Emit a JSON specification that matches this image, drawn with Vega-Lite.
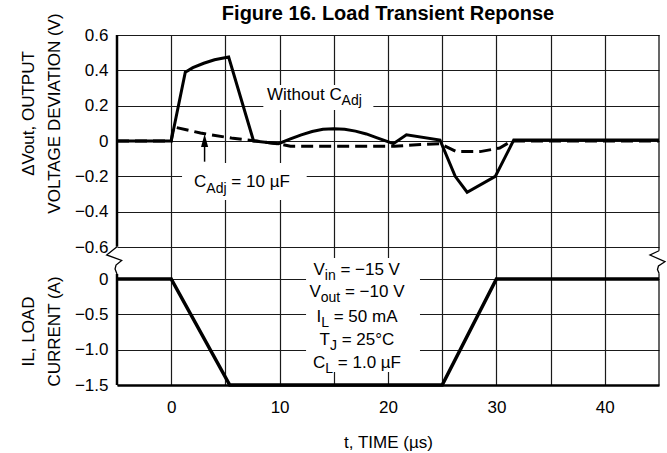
{
  "$schema": "https://vega.github.io/schema/vega-lite/v6.json",
  "autosize": {"type": "none"},
  "padding": {"left": 117, "top": 35, "right": 8, "bottom": 68},
  "width": 542,
  "height": 350,
  "background": "white",
  "title": {"text": "Figure 16. Load Transient Reponse", "font": "Liberation Sans", "fontSize": 20, "fontWeight": "bold", "color": "black", "anchor": "middle", "frame": "group", "baseline": "alphabetic", "offset": 0, "dy": 27},
  "config": {
    "view": {"stroke": null},
    "font": "Liberation Sans",
    "text": {"font": "Liberation Sans", "color": "black"},
    "axis": {"labelFont": "Liberation Sans", "labelFontSize": 17, "labelColor": "black", "titleFont": "Liberation Sans", "titleFontSize": 17, "titleFontWeight": "normal", "titleColor": "black", "gridColor": "#1a1a1a", "gridWidth": 1.2, "gridOpacity": 1, "ticks": false, "tickSize": 0, "domain": false}
  },
  "datasets": {
    "without": [{"t":-5,"v":0},{"t":0,"v":0},{"t":1.3,"v":0.39},{"t":2.0,"v":0.415},{"t":3.0,"v":0.44},{"t":4.0,"v":0.46},{"t":5.3,"v":0.475},{"t":7.6,"v":0},{"t":9.9,"v":-0.015},{"t":11,"v":0.012},{"t":12,"v":0.035},{"t":13,"v":0.054},{"t":14,"v":0.066},{"t":15,"v":0.07},{"t":16,"v":0.067},{"t":17,"v":0.056},{"t":18,"v":0.04},{"t":19,"v":0.018},{"t":20.5,"v":-0.015},{"t":21.7,"v":0.035},{"t":24.8,"v":0.005},{"t":26.2,"v":-0.2},{"t":27.3,"v":-0.29},{"t":29.9,"v":-0.2},{"t":31.6,"v":0.005},{"t":45,"v":0.005}],
    "withc": [{"t":-5,"v":0},{"t":0,"v":0},{"t":0.2,"v":0.08},{"t":2.7,"v":0.045},{"t":5.7,"v":0.015},{"t":7.9,"v":0},{"t":10,"v":-0.017},{"t":11,"v":-0.03},{"t":20.6,"v":-0.03},{"t":23,"v":-0.02},{"t":24.8,"v":-0.015},{"t":26.3,"v":-0.06},{"t":28.5,"v":-0.06},{"t":30.3,"v":-0.04},{"t":31.4,"v":0},{"t":45,"v":0}],
    "load": [{"t":-5,"v":0},{"t":0,"v":0},{"t":5.4,"v":-1.5},{"t":25,"v":-1.5},{"t":30,"v":0},{"t":45,"v":0}],
    "topboxes": [{"t":8.5,"t2":18.65,"v":0.317,"v2":0.175},{"t":1.0,"t2":12.5,"v":-0.125,"v2":-0.334}],
    "toptext": [
      {"t":8.84,"v":0.232,"text":"Without C","kind":"main"},
      {"t":15.72,"v":0.204,"text":"Adj","kind":"sub"},
      {"t":2.10,"v":-0.259,"text":"C","kind":"main"},
      {"t":3.24,"v":-0.296,"text":"Adj","kind":"sub"},
      {"t":5.55,"v":-0.259,"text":"= 10 µF","kind":"main"}
    ],
    "arrow": [{"t":3.08,"v":-0.117,"v2":0.0}],
    "arrowhead": [{"t":3.08,"v":0.003}],
    "botboxes": [{"t":12.44,"t2":22.95,"v":0.297,"v2":-1.316}],
    "bottext": [
      {"t":13.13,"v":0.057,"text":"V","kind":"main"},
      {"t":14.17,"v":-0.014,"text":"in","kind":"sub"},
      {"t":15.61,"v":0.057,"text":"= −15 V","kind":"main"},
      {"t":12.76,"v":-0.25,"text":"V","kind":"main"},
      {"t":13.80,"v":-0.321,"text":"out","kind":"sub"},
      {"t":16.03,"v":-0.25,"text":"= −10 V","kind":"main"},
      {"t":13.40,"v":-0.604,"text":"I","kind":"main"},
      {"t":13.84,"v":-0.675,"text":"L","kind":"sub"},
      {"t":14.99,"v":-0.604,"text":"= 50 mA","kind":"main"},
      {"t":13.69,"v":-0.934,"text":"T","kind":"main"},
      {"t":14.65,"v":-1.005,"text":"J","kind":"sub"},
      {"t":15.73,"v":-0.934,"text":"= 25°C","kind":"main"},
      {"t":13.08,"v":-1.259,"text":"C","kind":"main"},
      {"t":14.22,"v":-1.33,"text":"L","kind":"sub"},
      {"t":15.37,"v":-1.259,"text":"= 1.0 µF","kind":"main"}
    ],
    "borders": [
      {"t":-5,"v":3.453,"v2":0.457,"side":"left"},
      {"t":-5,"v":0.071,"v2":-1.5,"side":"left"},
      {"t":45,"v":3.453,"v2":0.40,"side":"right"},
      {"t":45,"v":0.081,"v2":-1.5,"side":"right"}
    ],
    "squiggles": [
      {"t":-5,"v":0.457,"i":0,"side":"left"},
      {"t":-5.95,"v":0.34,"i":1,"side":"left"},
      {"t":-4.57,"v":0.262,"i":2,"side":"left"},
      {"t":-5.09,"v":0.198,"i":3,"side":"left"},
      {"t":-5.18,"v":0.141,"i":4,"side":"left"},
      {"t":-5,"v":0.071,"i":5,"side":"left"},
      {"t":45,"v":0.40,"i":0,"side":"right"},
      {"t":44.17,"v":0.34,"i":1,"side":"right"},
      {"t":45.55,"v":0.245,"i":2,"side":"right"},
      {"t":44.95,"v":0.184,"i":3,"side":"right"},
      {"t":44.86,"v":0.134,"i":4,"side":"right"},
      {"t":45,"v":0.081,"i":5,"side":"right"}
    ]
  },
  "encoding": {
    "x": {"field": "t", "type": "quantitative",
      "scale": {"domain": [-5, 45], "nice": false, "zero": false},
      "axis": {"values": [0,5,10,15,20,25,30,35,40], "labelExpr": "datum.value % 10 === 0 ? datum.label : ''", "grid": true, "domain": true, "domainColor": "black", "domainWidth": 2.5, "labelPadding": 14, "title": "t, TIME (µs)", "titleY": 62, "titleBaseline": "alphabetic"}}
  },
  "layer": [
    {
      "encoding": {
        "y": {"field": "v", "type": "quantitative",
          "scale": {"domain": [-1.381, 0.6], "nice": false, "zero": false},
          "axis": {"orient": "left", "values": [-0.6,-0.4,-0.2,0,0.2,0.4,0.6], "format": ".1~f", "grid": true, "labelPadding": 9,
            "title": ["ΔVout, OUTPUT", "VOLTAGE DEVIATION (V)"], "titleAngle": -90, "titleAlign": "center", "titleBaseline": "alphabetic", "titleX": -84, "titleY": 78, "titleLineHeight": 26}}
      },
      "layer": [
        {"data": {"name": "topboxes"}, "mark": {"type": "rect", "fill": "white", "stroke": null}, "encoding": {"x2": {"field": "t2"}, "y2": {"field": "v2"}}},
        {"data": {"name": "toptext"}, "transform": [{"filter": "datum.kind === 'main'"}], "mark": {"type": "text", "align": "left", "baseline": "alphabetic", "fontSize": 17, "color": "black"}, "encoding": {"text": {"field": "text"}}},
        {"data": {"name": "toptext"}, "transform": [{"filter": "datum.kind === 'sub'"}], "mark": {"type": "text", "align": "left", "baseline": "alphabetic", "fontSize": 14, "color": "black"}, "encoding": {"text": {"field": "text"}}},
        {"data": {"name": "without"}, "mark": {"type": "line", "color": "black", "strokeWidth": 3, "strokeJoin": "miter"}},
        {"data": {"name": "withc"}, "mark": {"type": "line", "color": "black", "strokeWidth": 3, "strokeDash": [12, 6]}},
        {"data": {"name": "arrow"}, "mark": {"type": "rule", "color": "black", "strokeWidth": 1.5}, "encoding": {"y2": {"field": "v2"}}},
        {"data": {"name": "arrowhead"}, "mark": {"type": "point", "shape": "M0,-1L-0.55,1L0.55,1Z", "size": 169, "filled": true, "color": "black", "opacity": 1}}
      ]
    },
    {
      "encoding": {
        "y": {"field": "v", "type": "quantitative",
          "scale": {"domain": [-1.5, 3.453], "nice": false, "zero": false},
          "axis": {"orient": "left", "values": [-1.5,-1,-0.5,0], "labelExpr": "datum.value === 0 ? '0' : format(datum.value, '.1f')", "grid": true, "labelPadding": 9,
            "title": ["IL, LOAD", "CURRENT (A)"], "titleAngle": -90, "titleAlign": "center", "titleBaseline": "alphabetic", "titleX": -84, "titleY": 296, "titleLineHeight": 26}}
      },
      "layer": [
        {"data": {"name": "botboxes"}, "mark": {"type": "rect", "fill": "white", "stroke": null}, "encoding": {"x2": {"field": "t2"}, "y2": {"field": "v2"}}},
        {"data": {"name": "bottext"}, "transform": [{"filter": "datum.kind === 'main'"}], "mark": {"type": "text", "align": "left", "baseline": "alphabetic", "fontSize": 17, "color": "black"}, "encoding": {"text": {"field": "text"}}},
        {"data": {"name": "bottext"}, "transform": [{"filter": "datum.kind === 'sub'"}], "mark": {"type": "text", "align": "left", "baseline": "alphabetic", "fontSize": 14, "color": "black"}, "encoding": {"text": {"field": "text"}}},
        {"data": {"name": "load"}, "mark": {"type": "line", "color": "black", "strokeWidth": 3.5, "strokeJoin": "miter"}},
        {"data": {"name": "borders"}, "mark": {"type": "rule", "color": "black"}, "encoding": {"y2": {"field": "v2"}, "strokeWidth": {"field": "side", "type": "nominal", "scale": {"domain": ["left", "right"], "range": [2.5, 1.2]}, "legend": null}}},
        {"data": {"name": "squiggles"}, "mark": {"type": "line", "color": "black", "strokeWidth": 1.3}, "encoding": {"order": {"field": "i", "type": "quantitative"}, "detail": {"field": "side", "type": "nominal"}}}
      ]
    }
  ],
  "resolve": {"scale": {"y": "independent"}}
}
